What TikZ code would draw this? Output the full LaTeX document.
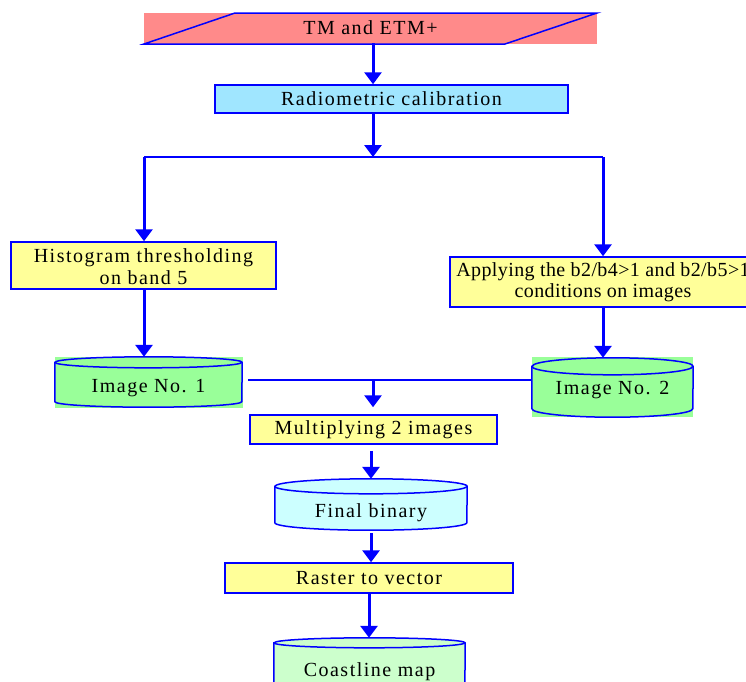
\documentclass[tikz,border=0pt]{standalone}
\usepackage{fontspec}
\setmainfont{Liberation Serif}[LetterSpace=7.5]
\usetikzlibrary{arrows.meta,calc}
\definecolor{lnblue}{RGB}{0,0,255}
\definecolor{pinkf}{RGB}{255,138,138}
\definecolor{cyanf}{RGB}{160,230,255}
\definecolor{yelf}{RGB}{255,255,153}
\definecolor{grnf}{RGB}{153,255,153}
\definecolor{lcyanf}{RGB}{204,255,255}
\definecolor{lgrnf}{RGB}{204,255,204}
% #1 node name, #2 x radius (pt), #3 y radius (pt), #4 fill colour
\newcommand\mycyl[4]{%
  \path[fill=#4,draw=lnblue,line width=1.5pt]
    ($(#1.north west)+(0,#3)$) -- ($(#1.south west)+(0,-#3)$)
    arc[start angle=180,end angle=360,x radius=#2pt,y radius=#3pt]
    -- ($(#1.north east)+(0,#3)$)
    arc[start angle=0,end angle=180,x radius=#2pt,y radius=#3pt] -- cycle;
  \draw[draw=lnblue,line width=1.5pt] ($(#1.north west)+(0,#3)$)
    arc[start angle=180,end angle=360,x radius=#2pt,y radius=#3pt];
}
\begin{document}
\begin{tikzpicture}[x=1pt,y=-1pt,
  every node/.style={font=\fontsize{20}{22}\selectfont, inner sep=0pt, text=black, align=center},
  procbox/.style={draw=lnblue, line width=1.5pt, fill=yelf},
  plainbox/.style={draw=none},
  bigarrow/.style={draw=lnblue, line width=3pt, -{Triangle[length=12pt,width=17pt]}},
  thinline/.style={draw=lnblue, line width=2pt}]
\useasboundingbox (0,0) rectangle (746,681);
\clip (0,0) rectangle (746,681);

% input parallelogram
\fill[pinkf] (144,13) rectangle (597,44);
\node[plainbox, minimum width=453pt, minimum height=31pt] (in) at (370.5,27.5) {TM and ETM+};
\draw[lnblue, line width=1.5pt] (144,44) -- (235,13) -- (597,13) -- (505,44) -- cycle;

\node[procbox, fill=cyanf, minimum width=353pt, minimum height=28pt] (calib) at (391.5,99) {Radiometric calibration};

\coordinate (sp) at (373,0);
\coordinate (jl) at (144,157);
\coordinate (jm) at (373,157);
\coordinate (jr) at (603,157);

\node[procbox, minimum width=265pt, minimum height=47pt] (hist) at (143.5,265.5) {};
\node at ($(hist.center)+(0,1.5)$) {Histogram thresholding\\on band 5};
\node[procbox, minimum width=306pt, minimum height=50pt, font=\fontsize{20}{21}\selectfont\addfontfeature{LetterSpace=2}] (app) at (603,282) {Applying the b2/b4>1 and b2/b5>1\\conditions on images};

% image cylinders
\fill[grnf] (55,357) rectangle (243,408);
\fill[grnf] (532,357) rectangle (693,417);
\node[plainbox, minimum width=187pt, minimum height=50pt] (img1) at (148.5,382) {};
\node[plainbox, minimum width=161pt, minimum height=59pt] (img2) at (612.5,387.5) {};
\mycyl{img1}{93.5}{5.5}{grnf}
\mycyl{img2}{80.5}{8.5}{grnf}
\node at ($(img1.center)+(0,6)$) {Image No. 1};
\node at ($(img2.center)+(0,3)$) {Image No. 2};

\coordinate (jb) at (373,380);
\node[procbox, minimum width=247pt, minimum height=29pt] (mult) at (373.5,429.5) {Multiplying 2 images};

\node[plainbox, minimum width=192pt, minimum height=51pt] (fin) at (371,504.5) {};
\mycyl{fin}{96}{7.5}{lcyanf}
\node at ($(fin.center)+(0,8)$) {Final binary};

\node[procbox, minimum width=288pt, minimum height=30pt] (rast) at (369,578) {Raster to vector};

\node[plainbox, minimum width=191pt, minimum height=62pt] (coast) at (369.5,669) {};
\mycyl{coast}{95.5}{5}{lgrnf}
\node at ($(coast.north)+(0,34)$) {Coastline map};

% connectors
\draw[bigarrow] (in.south -| sp) -- (calib.north -| sp);
\draw[bigarrow] (calib.south -| sp) -- (jm);
\draw[thinline] (jl) -- (jr);
\draw[bigarrow] (jl) -- (hist.north -| jl);
\draw[bigarrow] (jr) -- (app.north -| jr);
\draw[bigarrow] (hist.south -| jl) -- (img1.north -| jl);
\draw[bigarrow] (app.south -| jr) -- (img2.north -| jr);
\draw[thinline] ($(img1.east |- jb)+(6,0)$) -- (img2.west |- jb);
\draw[bigarrow] (jb) -- ($(mult.north -| jb)+(0,-7)$);
\draw[bigarrow] ($(mult.south -| fin.north)+(0,6)$) -- (fin.north);
\draw[bigarrow] ($(fin.south)+(0,3)$) -- (rast.north -| fin.south);
\draw[bigarrow] (rast.south) -- (coast.north -| rast.south);
\end{tikzpicture}
\end{document}
